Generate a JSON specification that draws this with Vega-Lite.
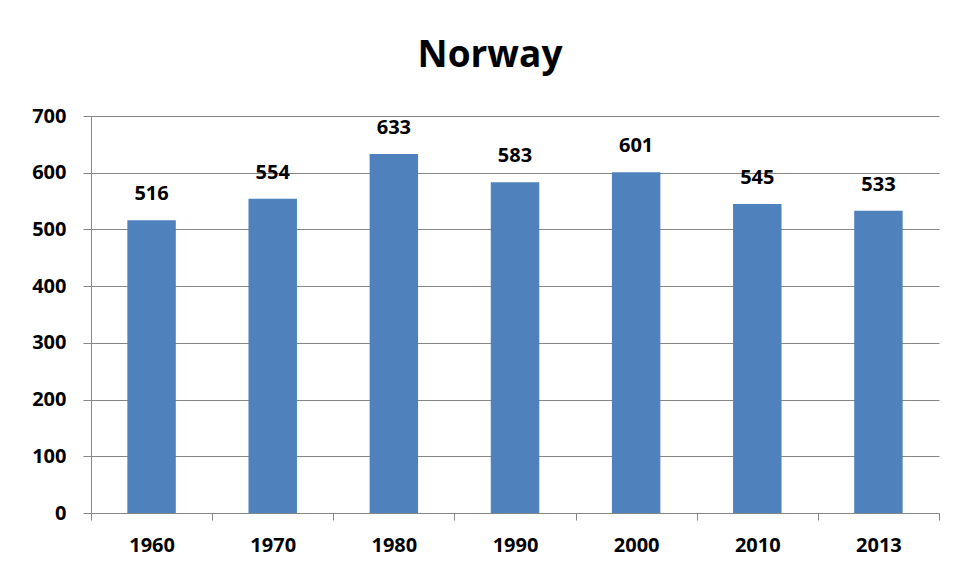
{
  "$schema": "https://vega.github.io/schema/vega-lite/v6.json",
  "width": 848,
  "height": 397,
  "autosize": {"type": "none"},
  "padding": {"left": 91, "top": 116, "right": 17, "bottom": 64},
  "background": "white",
  "title": {
    "text": "Norway",
    "font": "Open Sans",
    "fontSize": 37,
    "fontWeight": "bold",
    "color": "black",
    "anchor": "middle",
    "frame": "group",
    "dx": -25,
    "offset": 31
  },
  "data": {
    "values": [
      {"year": "1960", "value": 516},
      {"year": "1970", "value": 554},
      {"year": "1980", "value": 633},
      {"year": "1990", "value": 583},
      {"year": "2000", "value": 601},
      {"year": "2010", "value": 545},
      {"year": "2013", "value": 533}
    ]
  },
  "encoding": {
    "x": {
      "field": "year",
      "type": "ordinal",
      "sort": null,
      "scale": {"paddingInner": 0, "paddingOuter": 0},
      "axis": {
        "title": null,
        "labelAngle": 0,
        "tickBand": "extent",
        "tickSize": 7,
        "labelPadding": 15,
        "domainColor": "#868686",
        "tickColor": "#868686",
        "labelFont": "Open Sans",
        "labelFontSize": 20,
        "labelFontWeight": "bold",
        "labelColor": "black"
      }
    },
    "y": {
      "field": "value",
      "type": "quantitative",
      "scale": {"domain": [0, 700]},
      "axis": {
        "title": null,
        "values": [0, 100, 200, 300, 400, 500, 600, 700],
        "tickSize": 8,
        "labelPadding": 17,
        "gridColor": "#868686",
        "domainColor": "#868686",
        "tickColor": "#868686",
        "labelFont": "Open Sans",
        "labelFontSize": 20,
        "labelFontWeight": "bold",
        "labelColor": "black"
      }
    }
  },
  "layer": [
    {"mark": {"type": "bar", "color": "#4F81BD", "width": {"band": 0.4}}},
    {
      "mark": {
        "type": "text",
        "baseline": "bottom",
        "dy": -16,
        "font": "Open Sans",
        "fontSize": 20,
        "fontWeight": "bold",
        "color": "black"
      },
      "encoding": {"text": {"field": "value", "type": "quantitative"}}
    }
  ],
  "config": {"view": {"stroke": null}, "axis": {"gridOpacity": 1, "domainOpacity": 1}}
}
